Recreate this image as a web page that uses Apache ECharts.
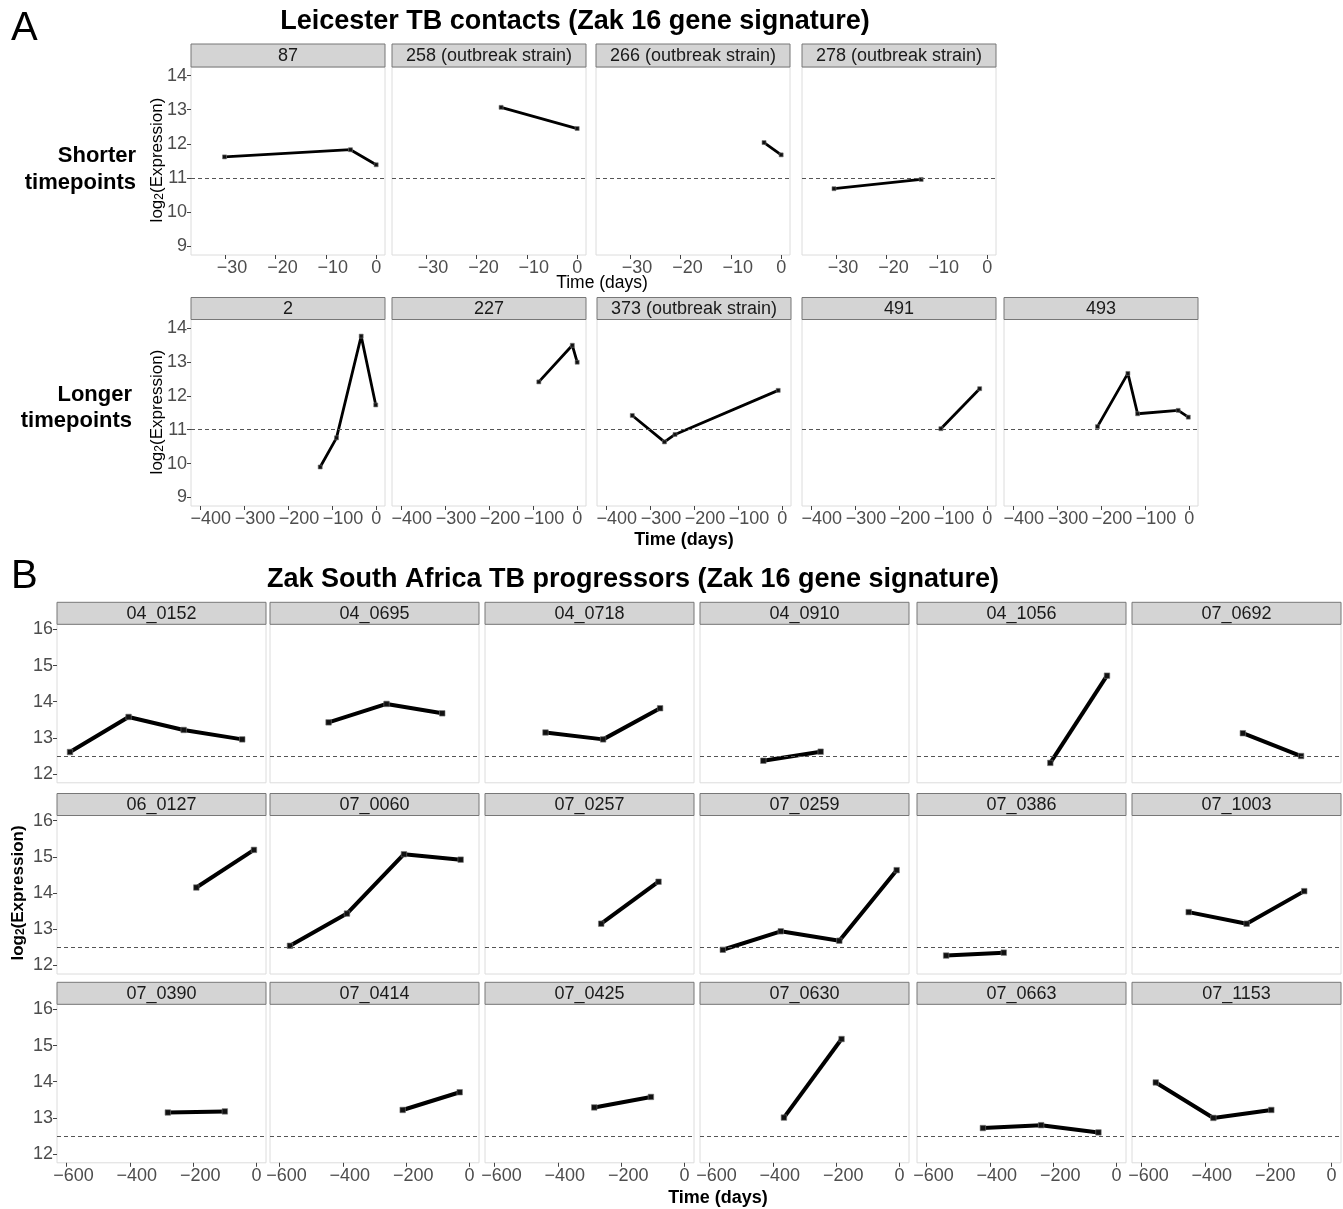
<!DOCTYPE html>
<html><head><meta charset="utf-8">
<script src="https://cdn.jsdelivr.net/npm/echarts@6/dist/echarts.min.js"></script>
<style>html,body{margin:0;padding:0;background:#fff}#c{width:1343px;height:1209px}</style>
</head><body><div id="c"></div>
<script>
// ---------- DATA ----------
// Panel A, shorter timepoints
const a1Names = ["87", "258 (outbreak strain)", "266 (outbreak strain)", "278 (outbreak strain)"];
const a1Days = [[-30.1, -5.1, 0], [-15.1, 0], [-3.4, 0], [-30.4, -13.1]];
const a1Vals = [[11.62, 11.83, 11.39], [13.07, 12.45], [12.04, 11.68], [10.69, 10.96]];
// Panel A, longer timepoints
const a2Names = ["2", "227", "373 (outbreak strain)", "491", "493"];
const a2Days = [[-127, -90, -34, -1], [-87, -11, 0], [-340, -267, -243, -9], [-105, -17], [-208, -139, -117, -25, -2]];
const a2Vals = [[9.90, 10.76, 13.76, 11.73], [12.41, 13.49, 12.99], [11.42, 10.64, 10.86, 12.16], [11.03, 12.21], [11.09, 12.66, 11.47, 11.57, 11.37]];
// Panel B
const bNames = ["04_0152", "04_0695", "04_0718", "04_0910", "04_1056", "07_0692",
  "06_0127", "07_0060", "07_0257", "07_0259", "07_0386", "07_1003",
  "07_0390", "07_0414", "07_0425", "07_0630", "07_0663", "07_1153"];
const bDays = [[-589, -404, -230, -45], [-445, -262, -86], [-439, -257, -77], [-430, -249], [-209, -30], [-280, -96],
  [-190, -8], [-567, -387, -207, -28], [-263, -82], [-558, -375, -190, -9], [-538, -356], [-451, -268, -86],
  [-280, -100], [-211, -31], [-285, -106], [-365, -183], [-422, -238, -57], [-555, -373, -190]];
const bVals = [[12.61, 13.58, 13.22, 12.96], [13.43, 13.94, 13.68], [13.15, 12.96, 13.82], [12.37, 12.62], [12.31, 14.72], [13.13, 12.50],
  [14.15, 15.19], [12.54, 13.43, 15.07, 14.92], [13.15, 14.31], [12.43, 12.94, 12.68, 14.63], [12.27, 12.35], [13.47, 13.15, 14.05],
  [13.15, 13.18], [13.22, 13.71], [13.29, 13.58], [13.01, 15.18], [12.72, 12.80, 12.60], [13.98, 13.00, 13.22]];
// Tick values and reference lines
const a1XTicks = [-30, -20, -10, 0];
const a2XTicks = [-400, -300, -200, -100, 0];
const aYTicks = [9, 10, 11, 12, 13, 14];
const bXTicks = [-600, -400, -200, 0];
const bYTicks = [12, 13, 14, 15, 16];
const aThreshold = 11;
const bThreshold = 12.5;

// ---------- LAYOUT ----------
const FONT = "'Liberation Sans', Arial, sans-serif";
const aYRange = [8.75, 14.25];
const a1XRange = [-36.75, 1.75];
const a2XRange = [-420, 20];
const bXRange = [-630, 30];
const bYRange = [11.76, 16.14];

const grids = [], xAxes = [], yAxes = [], series = [], graphics = [];

function fmt(v) { return String(v).replace('-', '\u2212'); }
function xLabel(shift) {
  const base = {fontSize: 18, fontFamily: FONT, color: '#4d4d4d'};
  return {
    formatter: v => v < 0 ? '{n|' + fmt(v) + '}' : '{z|' + fmt(v) + '}',
    rich: {n: Object.assign({padding: [0, 0, 0, 2 * shift]}, base), z: Object.assign({}, base)}
  };
}

function addPanel(p) {
  const gi = grids.length;
  grids.push({left: p.left, top: p.top, width: p.width, height: p.height, show: true,
    borderColor: '#dcdcdc', borderWidth: 1, backgroundColor: '#fff'});
  const xl = xLabel(p.xshift);
  xAxes.push({gridIndex: gi, type: 'value', min: p.xr[0], max: p.xr[1], position: 'bottom',
    axisLine: {show: false, onZero: false},
    axisTick: {show: p.showX, length: 4, lineStyle: {color: '#444', width: 1}, customValues: p.xt},
    axisLabel: {show: p.showX, customValues: p.xt, formatter: xl.formatter, rich: xl.rich,
      color: '#4d4d4d', fontSize: 18, fontFamily: FONT, margin: 4},
    splitLine: {show: false}});
  yAxes.push({gridIndex: gi, type: 'value', min: p.yr[0], max: p.yr[1], position: 'left',
    axisLine: {show: false, onZero: false},
    axisTick: {show: p.showY, length: 4, lineStyle: {color: '#444', width: 1}, customValues: p.yt},
    axisLabel: {show: p.showY, customValues: p.yt, formatter: fmt, color: '#4d4d4d', fontSize: 18, fontFamily: FONT, margin: 4},
    splitLine: {show: false}});
  series.push({type: 'line', xAxisIndex: gi, yAxisIndex: gi,
    data: p.days.map((d, i) => [d, p.vals[i]]),
    lineStyle: {color: '#000', width: p.lw}, symbol: 'rect', symbolSize: p.ss,
    itemStyle: {color: '#111', borderColor: '#777', borderWidth: 0.6},
    animation: false, silent: true,
    markLine: {silent: true, symbol: ['none', 'none'], label: {show: false},
      lineStyle: {type: [4, 3], color: '#555', width: 1.1}, data: [{yAxis: p.thr}], animation: false}});
  graphics.push({type: 'rect', shape: {x: p.left, y: p.top - p.sh, width: p.width, height: p.sh},
    style: {fill: '#d4d4d4', stroke: '#777', lineWidth: 1}});
  graphics.push({type: 'text', x: p.left + p.width / 2, y: p.top - p.sh / 2 + 1,
    style: {text: p.name, font: '18px ' + FONT, fill: '#1a1a1a', align: 'center', verticalAlign: 'middle'}});
}

// Panel A row 1
const a1Lefts = [191, 392, 596, 802];
a1Names.forEach((n, i) => addPanel({name: n, left: a1Lefts[i], top: 67, width: 194, height: 188, sh: 23,
  xr: a1XRange, yr: aYRange, xt: a1XTicks, yt: aYTicks, showX: true, showY: i === 0, xshift: 7,
  days: a1Days[i], vals: a1Vals[i], thr: aThreshold, lw: 2.8, ss: 4}));
// Panel A row 2
const a2Lefts = [191, 392, 597, 802, 1004];
a2Names.forEach((n, i) => addPanel({name: n, left: a2Lefts[i], top: 319.5, width: 194, height: 186.5, sh: 22,
  xr: a2XRange, yr: aYRange, xt: a2XTicks, yt: aYTicks, showX: true, showY: i === 0, xshift: 11,
  days: a2Days[i], vals: a2Vals[i], thr: aThreshold, lw: 2.8, ss: 4}));
// Panel B
const bLefts = [57, 270, 485, 700, 917, 1132];
const bTops = [624.3, 815.5, 1004.3];
bNames.forEach((n, i) => {
  const r = Math.floor(i / 6), c = i % 6;
  addPanel({name: n, left: bLefts[c], top: bTops[r], width: 209, height: 158.5, sh: 22,
    xr: bXRange, yr: bYRange, xt: bXTicks, yt: bYTicks, showX: r === 2, showY: c === 0, xshift: 7,
    days: bDays[i], vals: bVals[i], thr: bThreshold, lw: 4, ss: 5.5});
});

function txt(t, x, y, size, weight, align) {
  return {type: 'text', x: x, y: y,
    style: {text: t, font: (weight || 'normal') + ' ' + size + 'px ' + FONT, fill: '#000',
      align: align || 'center', verticalAlign: 'middle'}};
}
function ylab(x, y, weight) {
  return {type: 'text', x: x, y: y, rotation: Math.PI / 2,
    style: {text: '{n|log}{s|2}{n|(Expression)}', fill: '#000', align: 'center', verticalAlign: 'middle',
      rich: {n: {fontSize: 17, fontWeight: weight, fontFamily: FONT, fill: '#000'},
             s: {fontSize: 12, fontWeight: weight, fontFamily: FONT, fill: '#000', verticalAlign: 'bottom'}}}};
}

graphics.push(txt('A', 11, 29, 40, 'normal', 'left'));
graphics.push(txt('Leicester TB contacts (Zak 16 gene signature)', 575, 22, 27, 'bold'));
graphics.push(txt('Shorter', 136, 156, 22, 'bold', 'right'));
graphics.push(txt('timepoints', 136, 183, 22, 'bold', 'right'));
graphics.push(ylab(157, 160, 'normal'));
graphics.push(txt('Time (days)', 602, 283, 17.5, 'normal'));
graphics.push(txt('Longer', 132, 395, 22, 'bold', 'right'));
graphics.push(txt('timepoints', 132, 421, 22, 'bold', 'right'));
graphics.push(ylab(157, 412, 'normal'));
graphics.push(txt('Time (days)', 684, 540, 18, 'bold'));
graphics.push(txt('B', 11, 577, 40, 'normal', 'left'));
graphics.push(txt('Zak South Africa TB progressors (Zak 16 gene signature)', 633, 580, 27, 'bold'));
graphics.push(ylab(18, 893, 'bold'));
graphics.push(txt('Time (days)', 718, 1198, 18, 'bold'));

const chart = echarts.init(document.getElementById('c'), null, {renderer: 'canvas'});
chart.setOption({animation: false, backgroundColor: '#fff',
  grid: grids, xAxis: xAxes, yAxis: yAxes, series: series, graphic: graphics});
</script>
</body></html>
